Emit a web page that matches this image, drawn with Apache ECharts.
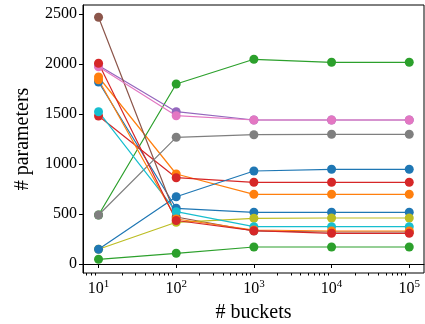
<!DOCTYPE html>
<html>
<head>
<meta charset="utf-8">
<script src="https://cdn.jsdelivr.net/npm/echarts@6/dist/echarts.min.js"></script>
<style>html,body{margin:0;padding:0;background:#fff}#c{width:425px;height:324px}</style>
</head>
<body>
<div id="c"></div>
<script>
// x positions are log10(# buckets)
const bucketExponents = [1, 2, 3, 4, 5];
const xTickExponents = [1, 2, 3, 4, 5];
const yTicks = [0, 500, 1000, 1500, 2000, 2500];
const colors = ['#1f77b4','#ff7f0e','#2ca02c','#d62728','#9467bd','#8c564b','#e377c2','#7f7f7f','#bcbd22','#17becf','#1f77b4','#ff7f0e','#2ca02c','#d62728'];

const s01 = [1820, 557, 517, 517, 517];
const s02 = [1870, 900, 697, 697, 697];
const s03 = [490, 1800, 2047, 2017, 2017];
const s04 = [1480, 863, 817, 817, 817];
const s05 = [1985, 1523, 1440, 1440, 1440];
const s06 = [2467, 470, 330, 320, 320];
const s07 = [1973, 1483, 1440, 1440, 1440];
const s08 = [490, 1267, 1293, 1297, 1297];
const s09 = [147, 417, 457, 460, 460];
const s10 = [1523, 523, 373, 373, 373];
const s11 = [147, 673, 930, 947, 947];
const s12 = [1843, 450, 340, 330, 330];
const s13 = [47, 107, 170, 170, 170];
const s14 = [2007, 435, 333, 307, 307];
const allSeries = [s01, s02, s03, s04, s05, s06, s07, s08, s09, s10, s11, s12, s13, s14];

const minorTicks = [];
for (let e = 0; e <= 5; e++) for (let k = 2; k <= 9; k++) {
  const v = e + Math.log10(k);
  if (v > 0.8 && v < 5.19) minorTicks.push(v);
}

const font = 'Liberation Serif, Times New Roman, serif';
const series = allSeries.map((d, i) => ({
  type: 'line',
  xAxisIndex: 0,
  data: d.map((v, j) => [bucketExponents[j], v]),
  symbol: 'circle',
  symbolSize: 9,
  lineStyle: { width: 1.2, color: colors[i] },
  itemStyle: { color: colors[i] },
  emphasis: { disabled: true },
  animation: false
}));

const chart = echarts.init(document.getElementById('c'));
chart.setOption({
  animation: false,
  grid: { left: 83, right: 1, top: 5, bottom: 51, show: true, borderColor: '#000', borderWidth: 1, outerBoundsMode: 'none', containLabel: false },
  xAxis: [{
    type: 'value', min: 0.8, max: 5.19,
    name: '# buckets', nameLocation: 'middle', nameGap: 30,
    nameTextStyle: { fontFamily: font, fontSize: 20, color: '#000' },
    axisLine: { lineStyle: { color: '#000' } },
    axisTick: { length: 4, lineStyle: { color: '#000' }, customValues: xTickExponents },
    axisLabel: {
      customValues: xTickExponents, margin: 6,
      formatter: v => '{b|10}{s|' + Math.round(v) + '}',
      rich: {
        b: { fontFamily: font, fontSize: 16, color: '#000', lineHeight: 20 },
        s: { fontFamily: font, fontSize: 11, color: '#000', lineHeight: 20, verticalAlign: 'top' }
      }
    },
    splitLine: { show: false }
  }, {
    type: 'value', min: 0.8, max: 5.19, position: 'bottom',
    axisLine: { show: false },
    axisTick: { length: 2.5, lineStyle: { color: '#000' }, customValues: minorTicks },
    axisLabel: { show: false },
    splitLine: { show: false }
  }],
  yAxis: {
    type: 'value', min: -90, max: 2590,
    name: '# parameters', nameLocation: 'middle', nameGap: 50,
    nameTextStyle: { fontFamily: font, fontSize: 20, color: '#000' },
    axisLine: { show: true, lineStyle: { color: '#000' } },
    axisTick: { show: true, length: 4, lineStyle: { color: '#000' }, customValues: yTicks },
    axisLabel: { customValues: yTicks, fontFamily: font, fontSize: 16, color: '#000', margin: 6, formatter: v => String(v) },
    splitLine: { show: false }
  },
  series: series
});
</script>
</body>
</html>
